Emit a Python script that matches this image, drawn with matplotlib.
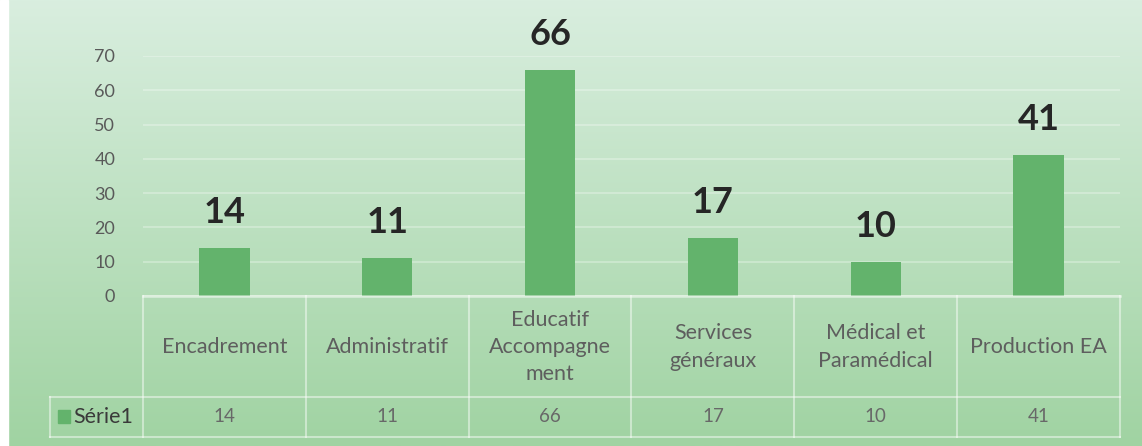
import matplotlib
matplotlib.use('Agg')
import matplotlib.pyplot as plt
import numpy as np
from matplotlib.colors import to_rgb
from matplotlib.patches import Rectangle

categories = ["Encadrement", "Administratif", "Educatif\nAccompagne\nment",
              "Services\ngénéraux", "Médical et\nParamédical", "Production EA"]
values = [14, 11, 66, 17, 10, 41]
series_name = "Série1"
y_ticks = [0, 10, 20, 30, 40, 50, 60, 70]

plt.rcParams['font.family'] = ['Lato', 'DejaVu Sans']

W, H = 1142, 446
fig = plt.figure(figsize=(W / 100, H / 100), dpi=100)

# background gradient
bg = fig.add_axes([0, 0, 1, 1], zorder=0)
top = np.array(to_rgb('#d9eedf'))
bot = np.array(to_rgb('#a0d3a2'))
t = np.linspace(0, 1, 256)[:, None, None]
grad = (1 - t) * top + t * bot
bg.imshow(grad, aspect='auto', extent=[0, 1, 0, 1])
bg.add_patch(Rectangle((0, 0), 8 / W, 1, color='white'))
bg.set_xlim(0, 1); bg.set_ylim(0, 1)
bg.axis('off')

# main chart
x0, x1 = 143, 1120
y_zero, y_top = 296, 56
ax = fig.add_axes([x0 / W, (H - y_zero) / H, (x1 - x0) / W, (y_zero - y_top) / H], zorder=2)
ax.set_facecolor('none')
xs = np.arange(len(categories))
ax.bar(xs, values, width=0.31, color='#63b36c', zorder=3)
ax.set_xlim(-0.5, len(categories) - 0.5)
ax.set_ylim(0, 70)
ax.set_yticks(y_ticks)
ax.set_xticks([])
ax.grid(axis='y', color='white', alpha=0.3, lw=1.3, zorder=1)
for s in ax.spines.values():
    s.set_visible(False)
ax.tick_params(axis='y', length=0, pad=20, labelsize=13, labelcolor='#595959')
for x, v in zip(xs, values):
    ax.annotate(str(v), (x, v), xytext=(0, 18), textcoords='offset points',
                ha='center', va='baseline', fontsize=26, fontweight='bold',
                color='#262626', annotation_clip=False)

# data table
y_bot = 437
tax = fig.add_axes([x0 / W, (H - y_bot) / H, (x1 - x0) / W, (y_bot - y_zero) / H], zorder=2)
tax.set_facecolor('none')
tax.set_xlim(-0.5, len(categories) - 0.5)
tax.set_ylim(0, y_bot - y_zero)
tax.axis('off')
colw = (x1 - x0) / len(categories)
row_split = y_bot - 397
left_hdr = (50 - x0) / colw - 0.5
lc = (1, 1, 1, 0.45)
for i in range(len(categories) + 1):
    tax.plot([i - 0.5, i - 0.5], [0, y_bot - y_zero], color=lc, lw=1.5, clip_on=False)
for yy in [0, row_split]:
    tax.plot([left_hdr, len(categories) - 0.5], [yy, yy], color=lc, lw=1.5, clip_on=False)
tax.plot([-0.5, len(categories) - 0.5], [y_bot - y_zero] * 2, color=(1, 1, 1, 0.55), lw=1.8, clip_on=False)
tax.plot([left_hdr, left_hdr], [0, row_split], color=lc, lw=1.5, clip_on=False)

cat_y = y_bot - 347
val_y = y_bot - 417
for x, c, v in zip(xs, categories, values):
    tax.text(x, cat_y, c, ha='center', va='center', fontsize=15.5, color='#5e5e5e',
             linespacing=1.45, multialignment='center')
    tax.text(x, val_y, str(v), ha='center', va='center', fontsize=13.5, color='#686868')

sq_x = (58 - x0) / colw - 0.5
tax.add_patch(Rectangle((sq_x, y_bot - 423), 12 / colw, 13, color='#63b36c', clip_on=False))
tax.text((73 - x0) / colw - 0.5, val_y, series_name, ha='left', va='center',
         fontsize=15.5, color='#3a3a3a', clip_on=False)

fig.savefig('out.png', dpi=100)
